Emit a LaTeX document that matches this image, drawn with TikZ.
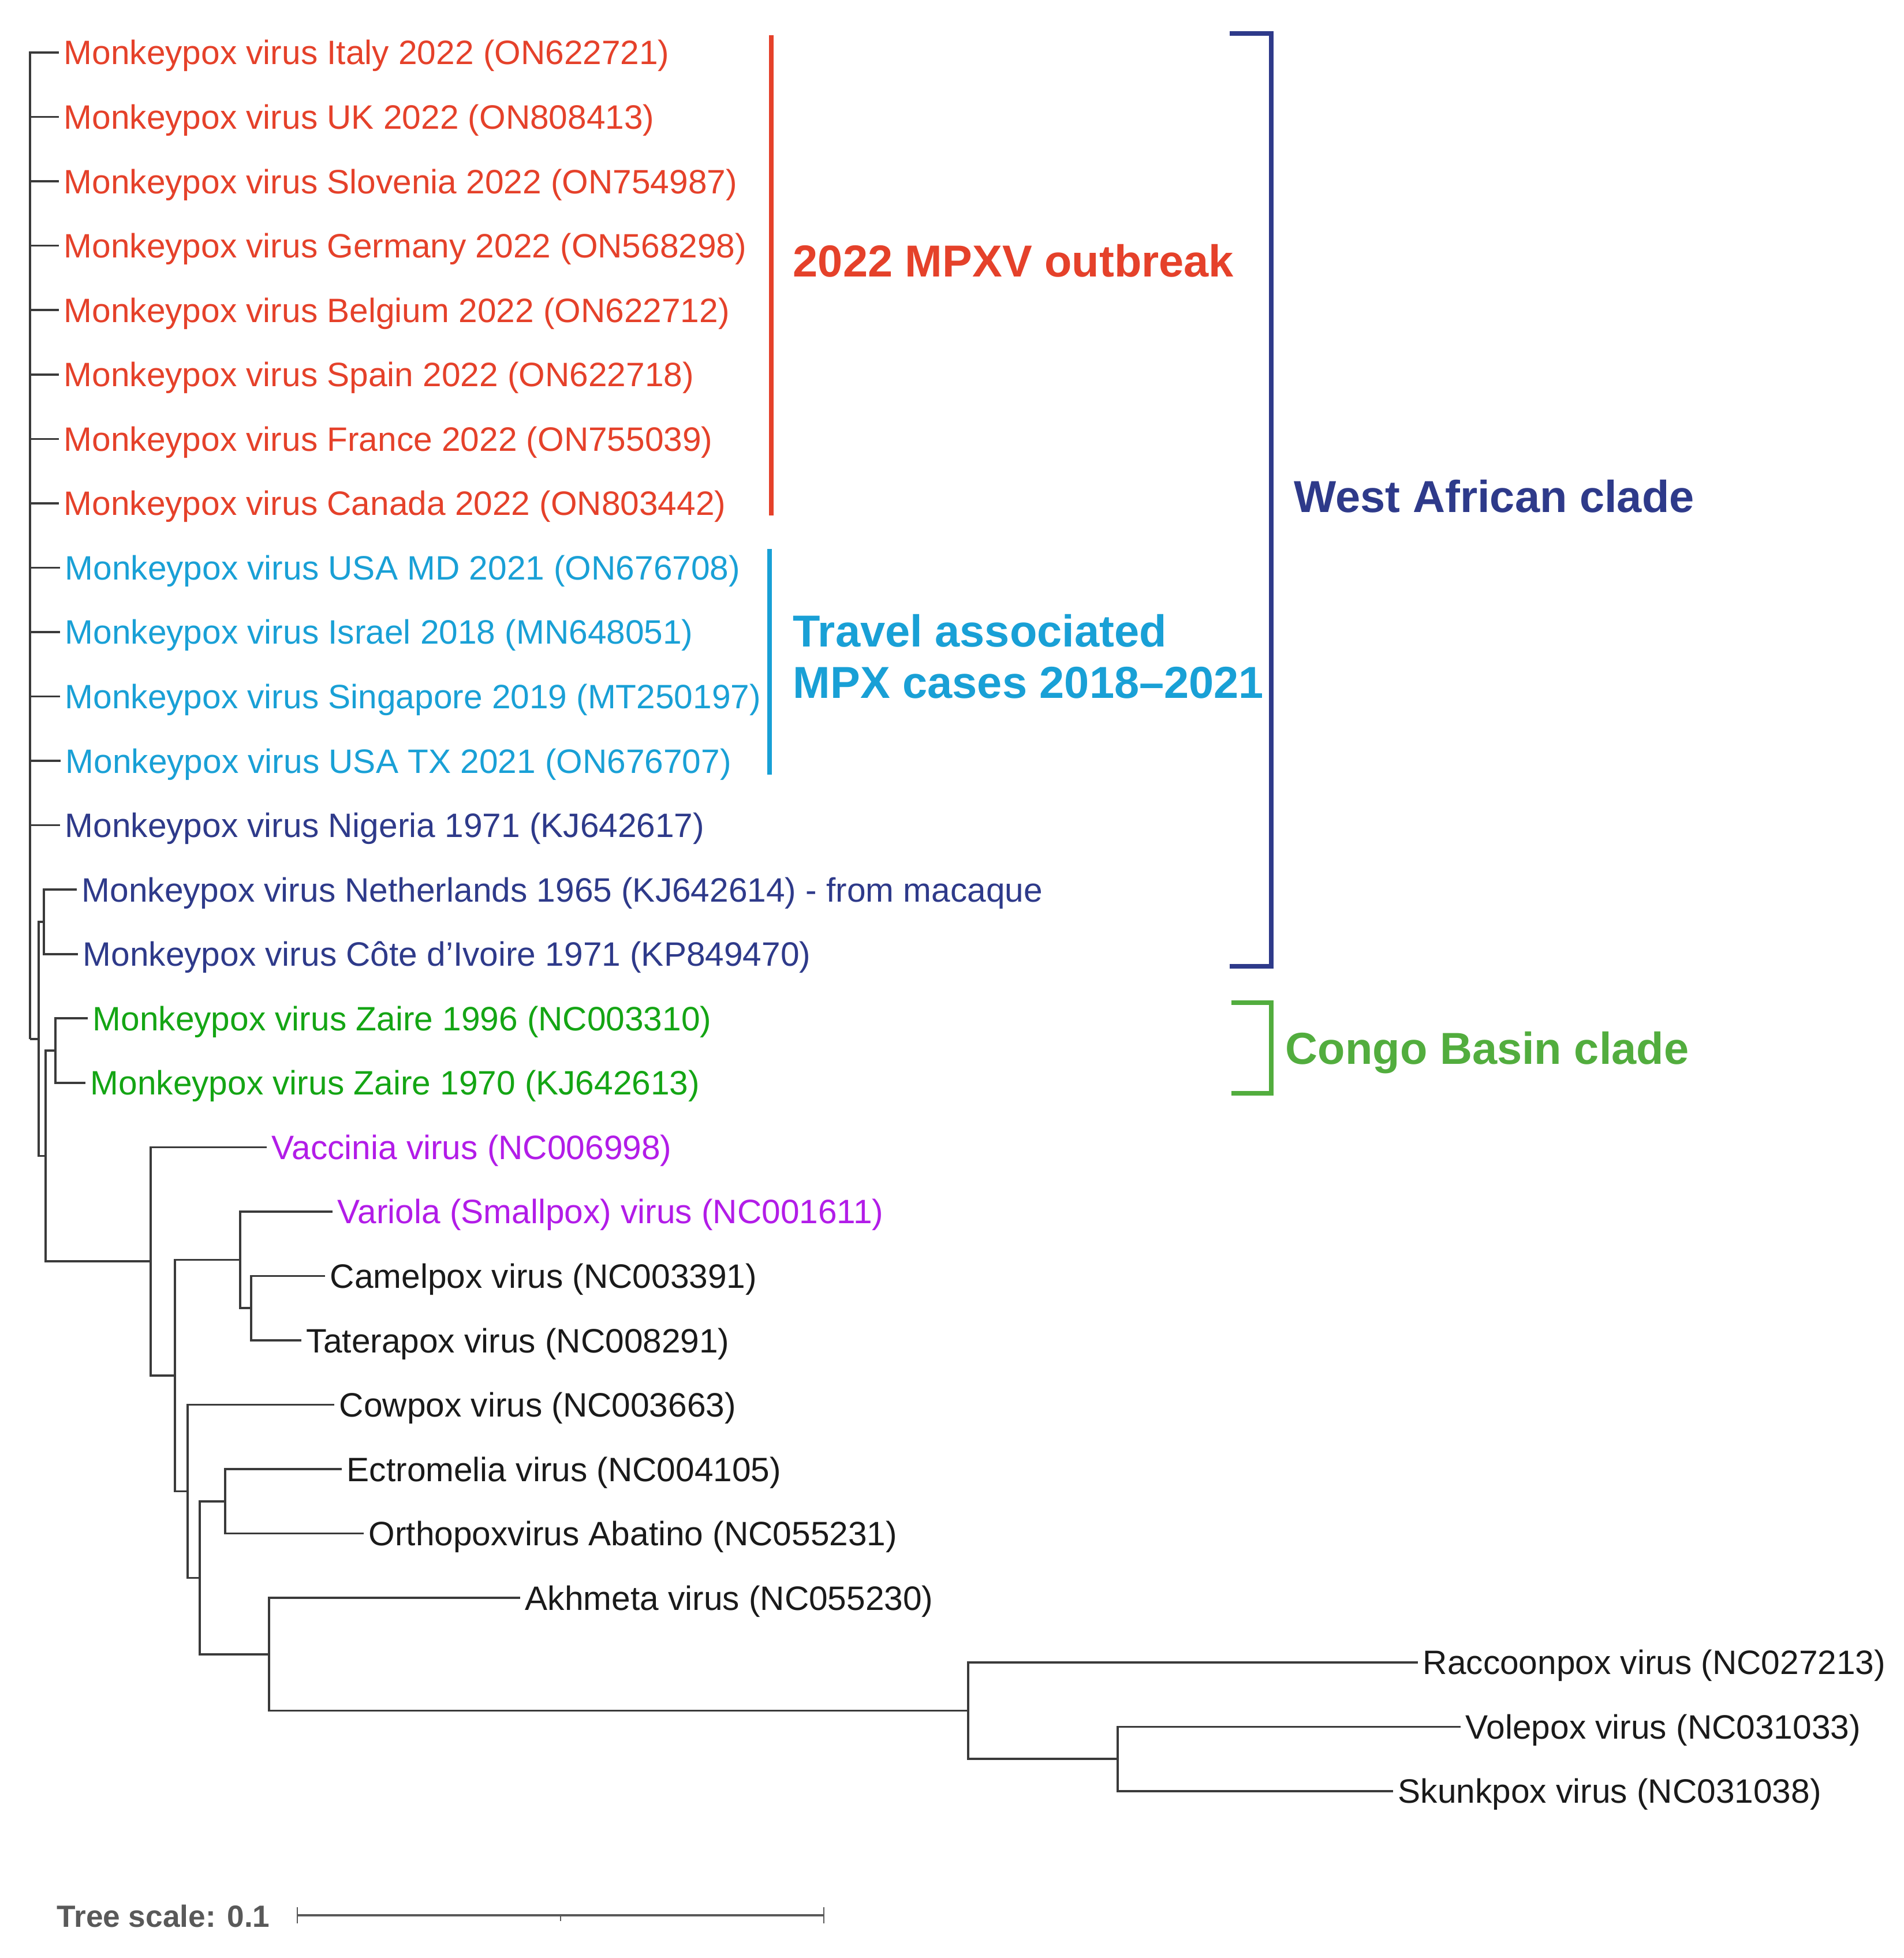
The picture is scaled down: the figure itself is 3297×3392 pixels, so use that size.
\documentclass[tikz,border=0pt]{standalone}
\usepackage{fontspec}
\setmainfont{Liberation Sans}
\definecolor{mpred}{HTML}{E5412A}
\definecolor{mplblue}{HTML}{19A0D6}
\definecolor{mpnavy}{HTML}{2E3A8A}
\definecolor{mpgreen}{HTML}{14A514}
\definecolor{mpcgreen}{HTML}{52AD3E}
\definecolor{mppurple}{HTML}{B21CE8}
\definecolor{mpblack}{HTML}{1A1A1A}
\definecolor{mpline}{HTML}{3A3A3A}
\definecolor{mpgray}{HTML}{595959}
\newcommand{\mkleaf}[5]{%
  \coordinate (#1) at (#3,#2);
  \node[leaflabel,text=#4] (#1L) at (#3+8,#2+21) {#5};}
\begin{document}
\begin{tikzpicture}[x=0.25pt,y=-0.25pt,
  branch/.style={draw=mpline,line width=0.9pt},
  leaflabel/.style={anchor=base west,inner sep=0pt,font=\fontsize{14.65}{17}\selectfont},
  cladelabel/.style={anchor=base west,inner sep=0pt,font=\fontsize{19.4}{23}\selectfont\bfseries},
  bracketline/.style={line width=2pt},
  scalebar/.style={draw=mpgray,line width=1pt}]
\useasboundingbox (0,0) rectangle (3297,3392);
\fill[white] (0,0) rectangle (3297,3392);

% leaves
\mkleaf{t1}{91}{102}{mpred}{Monkeypox virus Italy 2022 (ON622721)}
\mkleaf{t2}{202.55}{102}{mpred}{Monkeypox virus UK 2022 (ON808413)}
\mkleaf{t3}{314.1}{102}{mpred}{Monkeypox virus Slovenia 2022 (ON754987)}
\mkleaf{t4}{425.65}{102}{mpred}{Monkeypox virus Germany 2022 (ON568298)}
\mkleaf{t5}{537.2}{102}{mpred}{Monkeypox virus Belgium 2022 (ON622712)}
\mkleaf{t6}{648.75}{102}{mpred}{Monkeypox virus Spain 2022 (ON622718)}
\mkleaf{t7}{760.3}{102}{mpred}{Monkeypox virus France 2022 (ON755039)}
\mkleaf{t8}{871.85}{102}{mpred}{Monkeypox virus Canada 2022 (ON803442)}
\mkleaf{t9}{983.4}{104}{mplblue}{Monkeypox virus USA MD 2021 (ON676708)}
\mkleaf{t10}{1094.95}{104}{mplblue}{Monkeypox virus Israel 2018 (MN648051)}
\mkleaf{t11}{1206.5}{104}{mplblue}{Monkeypox virus Singapore 2019 (MT250197)}
\mkleaf{t12}{1318.05}{105}{mplblue}{Monkeypox virus USA TX 2021 (ON676707)}
\mkleaf{t13}{1429.6}{104}{mpnavy}{Monkeypox virus Nigeria 1971 (KJ642617)}
\mkleaf{t14}{1541.15}{133}{mpnavy}{Monkeypox virus Netherlands 1965 (KJ642614) - from macaque}
\mkleaf{t15}{1652.7}{135}{mpnavy}{Monkeypox virus Côte d’Ivoire 1971 (KP849470)}
\mkleaf{t16}{1764.25}{152}{mpgreen}{Monkeypox virus Zaire 1996 (NC003310)}
\mkleaf{t17}{1875.8}{148}{mpgreen}{Monkeypox virus Zaire 1970 (KJ642613)}
\mkleaf{t18}{1987.35}{462}{mppurple}{Vaccinia virus (NC006998)}
\mkleaf{t19}{2098.9}{576}{mppurple}{Variola (Smallpox) virus (NC001611)}
\mkleaf{t20}{2210.45}{563}{mpblack}{Camelpox virus (NC003391)}
\mkleaf{t21}{2322}{522}{mpblack}{Taterapox virus (NC008291)}
\mkleaf{t22}{2433.55}{579}{mpblack}{Cowpox virus (NC003663)}
\mkleaf{t23}{2545.1}{592}{mpblack}{Ectromelia virus (NC004105)}
\mkleaf{t24}{2656.65}{630}{mpblack}{Orthopoxvirus Abatino (NC055231)}
\mkleaf{t25}{2768.2}{901}{mpblack}{Akhmeta virus (NC055230)}
\mkleaf{t26}{2879.75}{2456}{mpblack}{Raccoonpox virus (NC027213)}
\mkleaf{t27}{2991.3}{2530}{mpblack}{Volepox virus (NC031033)}
\mkleaf{t28}{3102.85}{2413}{mpblack}{Skunkpox virus (NC031038)}

% internal nodes
\coordinate (cA) at (52,1800);
\coordinate (cB) at (67,1800);
\coordinate (cNC) at (76,1596.9);
\coordinate (cC) at (79,2002.6);
\coordinate (cZ) at (96,1820);
\coordinate (cD) at (261,2185.2);
\coordinate (cE) at (303,2383);
\coordinate (cVar) at (416,2182.6);
\coordinate (cCam) at (435,2266.2);
\coordinate (cF) at (325,2583.5);
\coordinate (cG) at (346,2733.4);
\coordinate (cEct) at (390,2600.9);
\coordinate (cH) at (466,2865.8);
\coordinate (cR) at (1677,2963.4);
\coordinate (cV) at (1936,3047.1);

% branches
\foreach \i in {1,...,13} {\draw[branch] (cA) |- (t\i);}
\draw[branch] (cB) -- (cA);
\draw[branch] (cB) |- (cNC);
\draw[branch] (cNC) |- (t14);
\draw[branch] (cNC) |- (t15);
\draw[branch] (cB) |- (cC);
\draw[branch] (cC) |- (cZ);
\draw[branch] (cZ) |- (t16);
\draw[branch] (cZ) |- (t17);
\draw[branch] (cC) |- (cD);
\draw[branch] (cD) |- (t18);
\draw[branch] (cD) |- (cE);
\draw[branch] (cE) |- (cVar);
\draw[branch] (cVar) |- (t19);
\draw[branch] (cVar) |- (cCam);
\draw[branch] (cCam) |- (t20);
\draw[branch] (cCam) |- (t21);
\draw[branch] (cE) |- (cF);
\draw[branch] (cF) |- (t22);
\draw[branch] (cF) |- (cG);
\draw[branch] (cG) |- (cEct);
\draw[branch] (cEct) |- (t23);
\draw[branch] (cEct) |- (t24);
\draw[branch] (cG) |- (cH);
\draw[branch] (cH) |- (t25);
\draw[branch] (cH) |- (cR);
\draw[branch] (cR) |- (t26);
\draw[branch] (cR) |- (cV);
\draw[branch] (cV) |- (t27);
\draw[branch] (cV) |- (t28);

% clade bars and brackets
\coordinate (redT) at (1336,61);
\coordinate (redB) at (1336,893);
\draw[bracketline,mpred] (redT) -- (redB);
\coordinate (lbT) at (1333,951);
\coordinate (lbB) at (1333,1342);
\draw[bracketline,mplblue] (lbT) -- (lbB);
\coordinate (waTL) at (2130,58);
\coordinate (waTR) at (2202,58);
\coordinate (waBR) at (2202,1674);
\coordinate (waBL) at (2130,1674);
\draw[bracketline,mpnavy] (waTL) -- (waTR) -- (waBR) -- (waBL);
\coordinate (cbTL) at (2133,1737);
\coordinate (cbTR) at (2202,1737);
\coordinate (cbBR) at (2202,1894);
\coordinate (cbBL) at (2133,1894);
\draw[bracketline,mpcgreen] (cbTL) -- (cbTR) -- (cbBR) -- (cbBL);

\node[cladelabel,text=mpred] (lblOut) at (1373,480) {2022 MPXV outbreak};
\node[cladelabel,text=mplblue] (lblTrav1) at (1373,1120) {Travel associated};
\node[cladelabel,text=mplblue] (lblTrav2) at (1373,1209) {MPX cases 2018–2021};
\node[cladelabel,text=mpnavy] (lblWA) at (2241,887) {West African clade};
\node[cladelabel,text=mpcgreen] (lblCB) at (2226,1843) {Congo Basin clade};

% scale bar
\node[anchor=base west,inner sep=0pt,text=mpgray,font=\fontsize{13.3}{16}\selectfont\bfseries] (scaletxt) at (98,3338) {Tree scale: 0.1};
\coordinate (sbL) at (515,3318);
\coordinate (sbM) at (971,3318);
\coordinate (sbR) at (1427,3318);
\draw[scalebar] (sbL) -- (sbR);
\draw[mpgray,line width=0.5pt] (sbL) ++(0,-14) -- ++(0,28);
\draw[mpgray,line width=0.5pt] (sbR) ++(0,-14) -- ++(0,28);
\draw[mpgray,line width=0.5pt] (sbM) -- ++(0,10);
\end{tikzpicture}
\end{document}
